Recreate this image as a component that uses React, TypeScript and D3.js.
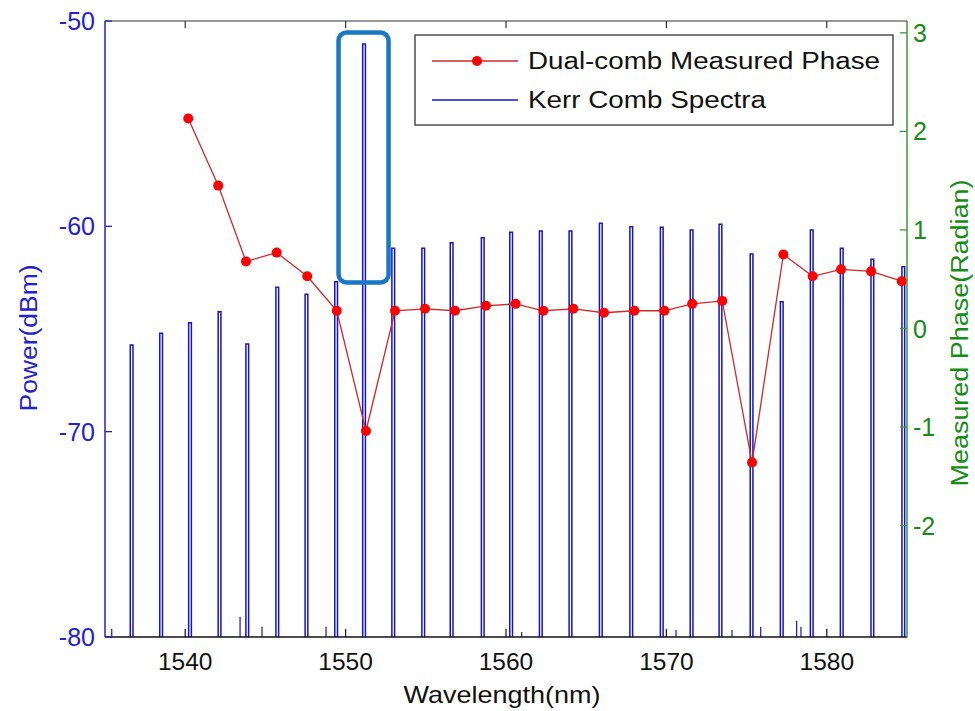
import React from "react";
import * as d3 from "d3";

// ---- Data ----
const combWavelengths = [
  1536.66, 1538.5, 1540.3, 1542.14, 1543.87, 1545.74, 1547.56, 1549.41, 1551.15,
  1552.97, 1554.84, 1556.61, 1558.55, 1560.32, 1562.17, 1564.02, 1565.91, 1567.81,
  1569.71, 1571.57, 1573.37, 1575.31, 1577.19, 1579.06, 1580.93, 1582.84, 1584.77,
];
const combPeaks = [
  -65.78, -65.21, -64.69, -64.16, -65.73, -62.97, -63.31, -62.7, -51.12,
  -61.07, -61.07, -60.8, -60.55, -60.29, -60.23, -60.23, -59.85, -60.02,
  -60.05, -60.18, -59.9, -61.35, -63.67, -60.18, -61.07, -61.6, -61.97,
];
const noiseWavelengths = [1535.42, 1543.42, 1544.79, 1548.78, 1560.98, 1570.6, 1574.09, 1575.88, 1578.12, 1578.39];
const noiseLevels = [-79.61, -79.03, -79.51, -79.51, -79.76, -79.66, -79.66, -79.51, -79.22, -79.51];

const phaseWavelengths = [
  1540.19, 1542.06, 1543.79, 1545.7, 1547.61, 1549.45, 1551.27, 1553.08, 1554.95,
  1556.82, 1558.75, 1560.6, 1562.33, 1564.2, 1566.11, 1568.0, 1569.87, 1571.61,
  1573.48, 1575.34, 1577.29, 1579.12, 1580.89, 1582.76, 1584.67,
];
const phaseValues = [
  2.13, 1.45, 0.68, 0.77, 0.53, 0.18, -1.04, 0.18, 0.2,
  0.18, 0.23, 0.25, 0.18, 0.2, 0.16, 0.18, 0.18, 0.25,
  0.28, -1.36, 0.75, 0.53, 0.6, 0.58, 0.48,
];

const xTicks = [1540, 1550, 1560, 1570, 1580];
const leftTicks = [-50, -60, -70, -80];
const rightTicks = [3, 2, 1, 0, -1, -2];

const legendLabels = ["Dual-comb Measured Phase", "Kerr Comb Spectra"];

// ---- Layout ----
const W = 975;
const H = 711;
const L = 105;
const R = 907;
const T = 21;
const B = 637;

const BLUE = "#2222cc";
const LINEBLUE = "#1414c4";
const GREEN = "#168c16";
const FONT = "'Liberation Sans', Arial, sans-serif";

export default function App() {
  const x = d3.scaleLinear().domain([1535, 1585]).range([L, R]);
  const yL = d3.scaleLinear().domain([-80, -50]).range([B, T]);
  const yR = d3.scaleLinear().domain([-3.13, 3.12]).range([B, T]);

  const half = 0.085;
  const combPath = combWavelengths
    .map((w, i) => {
      const p = combPeaks[i];
      const x0 = x(w - half);
      const x1 = x(w + half);
      return `M${x0},${yL(-95)}L${x0},${yL(p)}L${x1},${yL(p)}L${x1},${yL(-95)}`;
    })
    .join("");
  const noisePath = noiseWavelengths
    .map((w, i) => `M${x(w)},${yL(-82)}L${x(w)},${yL(noiseLevels[i])}`)
    .join("");

  const phasePts: [number, number][] = phaseWavelengths.map((w, i) => [w, phaseValues[i]]);
  const phaseLine = d3
    .line<[number, number]>()
    .x((d) => x(d[0]))
    .y((d) => yR(d[1]))(phasePts) as string;

  // highlight box around the strongest comb line
  const hw = combWavelengths[8];
  const boxX0 = x(hw) - 25.5;
  const boxX1 = x(hw) + 24.5;
  const boxY0 = 32.5;
  const boxY1 = 282.5;

  return (
    <svg
      width={W}
      height={H}
      style={{ position: "absolute", left: 0, top: 0, background: "#fff" }}
      fontFamily={FONT}
    >
      <defs>
        <clipPath id="plotclip">
          <rect x={L} y={T} width={R - L} height={B - T} />
        </clipPath>
      </defs>
      <rect x={0} y={0} width={W} height={H} fill="#fff" />

      {/* spectrum */}
      <g clipPath="url(#plotclip)">
        <path d={combPath} fill="none" stroke={LINEBLUE} strokeWidth={1.5} />
        <path d={noisePath} fill="none" stroke={LINEBLUE} strokeWidth={1.2} />
      </g>

      {/* phase */}
      <path d={phaseLine} fill="none" stroke="#cc2a2a" strokeWidth={1.3} />
      {phasePts.map((d, i) => (
        <circle key={i} cx={x(d[0])} cy={yR(d[1])} r={5} fill="#ff0000" />
      ))}

      {/* highlight box */}
      <rect
        x={boxX0}
        y={boxY0}
        width={boxX1 - boxX0}
        height={boxY1 - boxY0}
        rx={8}
        ry={8}
        fill="none"
        stroke="#1a78c2"
        strokeWidth={4.5}
      />

      {/* top border and ticks */}
      <line x1={L} x2={R} y1={T} y2={T} stroke="#333" strokeWidth={1.2} />
      {xTicks.map((t) => (
        <line key={"tt" + t} x1={x(t)} x2={x(t)} y1={T} y2={T + 7} stroke="#333" strokeWidth={1.2} />
      ))}

      {/* bottom axis */}
      <line x1={L} x2={R} y1={B} y2={B} stroke="#111" strokeWidth={1.3} />
      {xTicks.map((t) => (
        <g key={"bt" + t}>
          <line x1={x(t)} x2={x(t)} y1={B} y2={B - 8} stroke="#111" strokeWidth={1.2} />
          <text x={x(t)} y={670} textAnchor="middle" fontSize={24.5} fill="#111">
            {t}
          </text>
        </g>
      ))}
      <text x={502} y={703} textAnchor="middle" fontSize={24} fill="#111" textLength={197} lengthAdjust="spacingAndGlyphs">
        Wavelength(nm)
      </text>

      {/* left axis */}
      <line x1={L} x2={L} y1={T} y2={B} stroke={BLUE} strokeWidth={1.5} />
      {leftTicks.map((t) => (
        <g key={"lt" + t}>
          <line x1={L} x2={L + 7} y1={yL(t)} y2={yL(t)} stroke={BLUE} strokeWidth={1.3} />
          <text x={95} y={yL(t)} dy="0.36em" textAnchor="end" fontSize={25} fill={BLUE}>
            {t}
          </text>
        </g>
      ))}
      <text
        transform={`translate(37,${338}) rotate(-90)`}
        textAnchor="middle"
        fontSize={23}
        fill={BLUE}
        textLength={147}
        lengthAdjust="spacingAndGlyphs"
      >
        Power(dBm)
      </text>

      {/* right axis */}
      <line x1={R} x2={R} y1={T} y2={B} stroke="#3a9a3a" strokeWidth={1.5} />
      {rightTicks.map((t) => (
        <g key={"rt" + t}>
          <line x1={R} x2={R - 7} y1={yR(t)} y2={yR(t)} stroke="#3a9a3a" strokeWidth={1.3} />
          <text x={913} y={yR(t)} dy="0.36em" textAnchor="start" fontSize={25} fill={GREEN}>
            {t}
          </text>
        </g>
      ))}
      <text
        transform={`translate(968,${333}) rotate(-90)`}
        textAnchor="middle"
        fontSize={23}
        fill={GREEN}
        textLength={307}
        lengthAdjust="spacingAndGlyphs"
      >
        Measured Phase(Radian)
      </text>

      {/* legend */}
      <rect x={415} y={35} width={478} height={90} fill="#fff" stroke="#222" strokeWidth={1.2} />
      <line x1={432} x2={518} y1={61} y2={61} stroke="#cc2a2a" strokeWidth={1.3} />
      <circle cx={477} cy={61} r={5} fill="#ff0000" />
      <text x={528} y={68.5} fontSize={23.5} fill="#111" textLength={352} lengthAdjust="spacingAndGlyphs">
        {legendLabels[0]}
      </text>
      <line x1={432} x2={518} y1={100} y2={100} stroke={LINEBLUE} strokeWidth={1.3} />
      <text x={528} y={107.5} fontSize={23.5} fill="#111" textLength={238} lengthAdjust="spacingAndGlyphs">
        {legendLabels[1]}
      </text>
    </svg>
  );
}
